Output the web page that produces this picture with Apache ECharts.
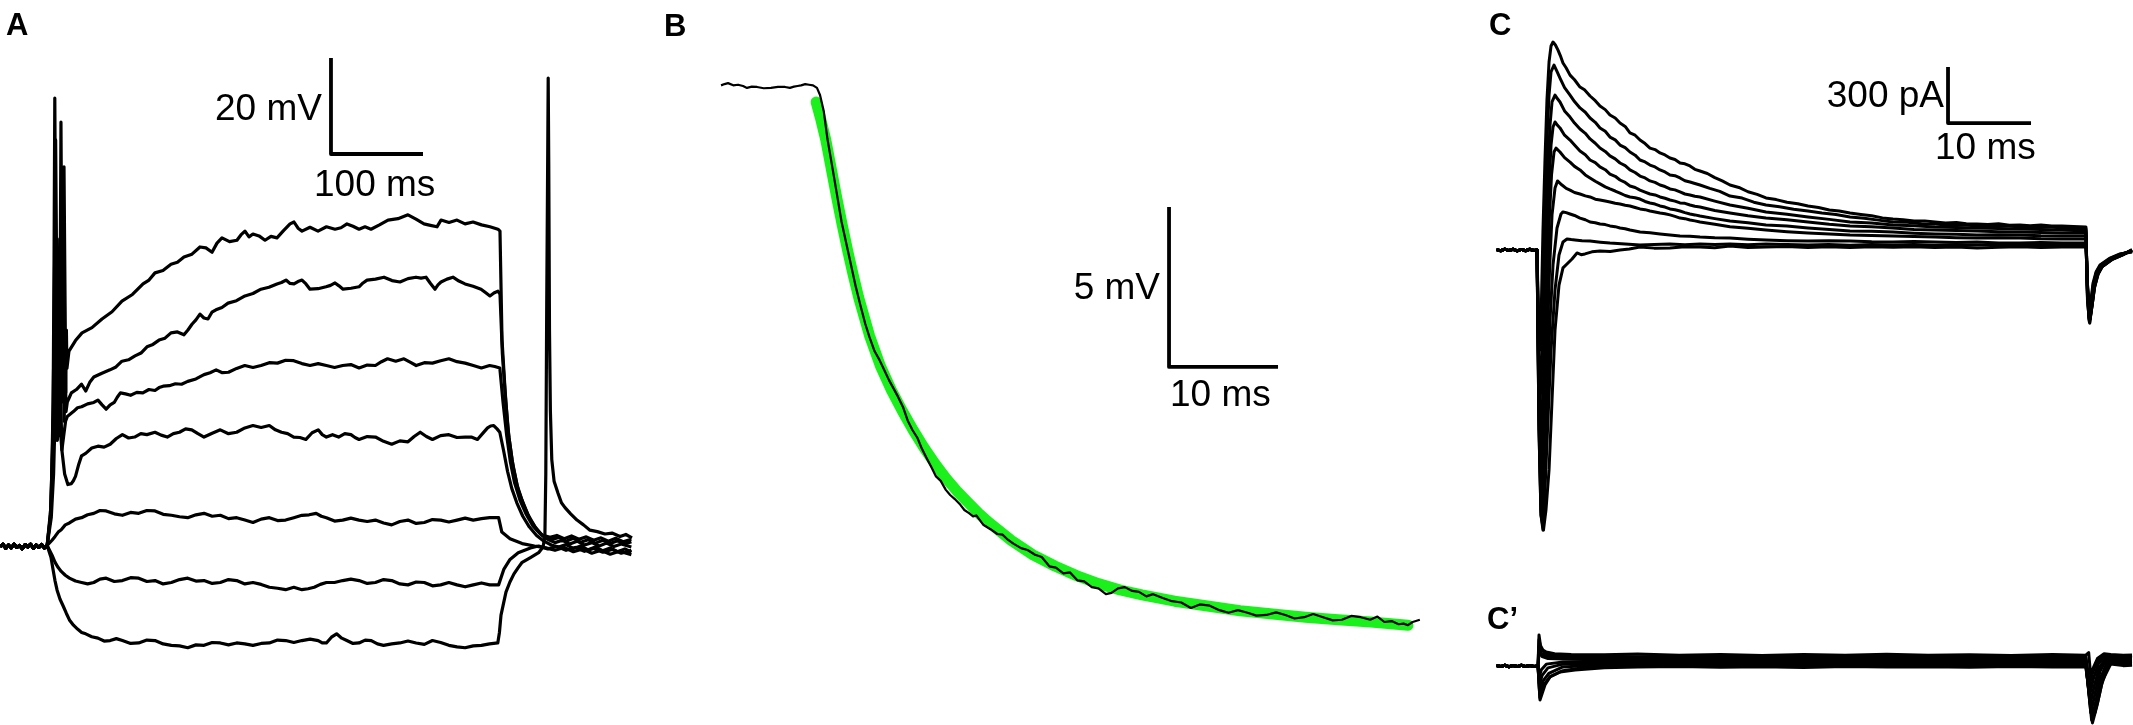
<!DOCTYPE html>
<html><head><meta charset="utf-8">
<script src="https://cdn.jsdelivr.net/npm/echarts/dist/echarts.min.js"></script>
<style>html,body{margin:0;padding:0;background:#fff}#c{width:2133px;height:725px}</style>
</head><body><div id="c"></div>
<script>
// ===== Panel A: membrane potential (ms, mV) =====
const aBase = [[-53,-70.2],[-50,-69.6],[-47,-70.5],[-44,-69.8],[-41,-70.4],[-38,-69.6],[-35,-70.3],[-32,-69.9],[-29,-70.6],[-26,-69.7],[-23,-70.2],[-20,-69.6],[-17,-70.5],[-14,-69.8],[-11,-70.3],[-8,-69.7],[-5,-70.4],[-2,-69.9]];
const a1 = [[0,-70],[1.5,-64],[3,-55],[4.5,-40],[5.5,-10],[6.3,23.3],[7,0],[8,-35],[9,-48],[10.5,-45],[12,-20],[13,18.3],[14,-15],[15,-40],[16.3,9],[17.5,-20],[18.2,-38],[18.9,-25],[19.5,-33],[21.7,-29.4],[28.8,-27.2],[35.9,-25.6],[46.7,-24.5],[57.6,-22.7],[68.5,-21.2],[79.3,-19.0],[90.7,-17.6],[102.2,-15.4],[108.7,-14.6],[115.2,-13.1],[123.9,-12.6],[132.6,-11.3],[139.6,-10.9],[146.7,-9.8],[155.4,-9.2],[164.1,-7.7],[170.6,-7.9],[177.2,-8.8],[182.6,-6.9],[188,-5.8],[196.2,-6.6],[204.3,-6.3],[208.6,-5.2],[213,-4.4],[217.4,-5.6],[221.7,-5.0],[228.3,-5.4],[234.8,-6.3],[241.3,-5.5],[247.8,-5.8],[254.9,-4.3],[262,-2.9],[266.3,-2.5],[270.7,-3.8],[275,-4.4],[283.7,-3.6],[292.4,-4.4],[301.6,-3.5],[310.9,-4.0],[317.4,-3.7],[323.9,-2.9],[330.4,-3.4],[337,-4.0],[343.5,-3.5],[350,-4.0],[359.2,-3.1],[368.5,-2.1],[379.3,-1.8],[390.2,-1.0],[398.9,-1.9],[407.6,-2.9],[414.6,-3.2],[421.7,-3.5],[426.1,-2.1],[434.8,-2.6],[443.5,-2.1],[452.2,-2.9],[460.9,-2.5],[470.1,-3.1],[479.3,-3.5],[488,-4.0],[490.2,-4.4],[492.4,-27],[495.7,-37.5],[498.9,-45.8],[503.3,-52.1],[508.7,-57.3],[514.1,-60.4],[520.7,-63.5],[528.3,-66],[535.9,-67.7],[544.6,-68.2],[552,-67.8],[560,-68.5],[568,-67.9],[576,-68.6],[584,-68.1],[592,-68.8],[600,-68.3],[608,-69.0],[616,-68.4],[624,-69.1],[633,-68.6]];
const a2 = [[0,-70],[2,-62],[4,-48],[5.5,-25],[7.2,14.6],[8.2,-10],[9.5,-40],[11,-47],[12.5,-35],[14.5,-0.6],[15.5,-25],[16.5,-44],[17.5,-30],[18.5,-42],[19.9,-40.0],[24.3,-38.1],[29.8,-37.4],[35.4,-36.3],[39.9,-37.7],[44.3,-35.9],[48.7,-34.8],[57.5,-34.0],[66.3,-33.3],[72.8,-32.7],[79.3,-31.5],[86.4,-31.2],[93.5,-30.4],[100,-29.8],[106.5,-28.5],[113,-28.0],[119.6,-27.1],[126.1,-26.7],[132.6,-25.6],[139.6,-25.4],[146.7,-26.0],[151,-25.0],[155.4,-23.8],[159.7,-22.9],[164.1,-21.7],[168.4,-22.5],[172.8,-22.7],[177.1,-21.3],[181.5,-20.8],[188,-20.3],[194.6,-19.4],[203.8,-18.9],[213,-17.9],[221.7,-17.4],[230.4,-16.5],[239.1,-16.1],[247.8,-15.4],[252.7,-15.1],[257.6,-14.6],[262,-15.3],[266.3,-15.4],[270.6,-14.9],[275,-14.6],[279.3,-15.4],[283.7,-16.5],[292.4,-16.4],[301.1,-16.0],[306,-15.7],[310.9,-15.2],[315.2,-15.8],[319.6,-16.5],[328.3,-16.3],[337,-16.0],[341.3,-15.2],[345.7,-14.6],[354.9,-14.4],[364.1,-14.0],[372.8,-14.7],[381.5,-15.0],[390.2,-14.3],[398.9,-14.0],[404.4,-14.2],[409.8,-14.0],[414.7,-15.3],[419.6,-16.5],[422.8,-15.6],[426.1,-15.0],[432.6,-14.4],[439.1,-14.0],[445.6,-14.8],[452.2,-15.4],[460.9,-15.9],[469.6,-16.5],[474.4,-17.2],[479.3,-17.9],[483.6,-17.3],[488,-16.9],[490.2,-17.5],[492.8,-30],[496.5,-40],[500,-47.5],[504.5,-53.5],[510,-58.3],[516,-61.5],[523,-64.5],[530.5,-66.7],[538,-68.1],[546,-68.7],[554,-68.2],[562,-69],[570,-68.4],[578,-69.2],[586,-68.7],[594,-69.4],[602,-68.8],[610,-69.5],[618,-68.9],[626,-69.6],[633,-69.1]];
const a3 = [[0,-70],[2,-63],[4,-50],[6,-35],[7.8,-15],[9,-6],[10.2,-22],[12,-45],[14,-50],[16,-47],[18,-44],[19.9,-43.0],[26.5,-42.0],[31,-41.2],[35.4,-41.0],[42,-40.4],[48.7,-40.1],[53.2,-39.6],[57.7,-40.6],[62.1,-41.5],[66.5,-40.6],[70.9,-40.1],[74.2,-39.0],[77.6,-38.1],[83.2,-38.3],[88.7,-38.6],[95.4,-38.0],[102,-38.1],[108.6,-37.4],[115.2,-37.6],[119.7,-37.0],[124.1,-36.7],[130.8,-36.6],[137.4,-36.2],[144.1,-36.3],[150.8,-35.7],[159.7,-35.2],[168.5,-34.3],[175.1,-33.9],[181.7,-33.3],[188.4,-33.9],[195.1,-33.8],[204,-33.0],[212.8,-32.4],[221.7,-32.8],[230.5,-32.4],[239.4,-31.8],[248.3,-31.9],[257.2,-31.3],[266,-31.4],[274.9,-32.0],[283.7,-32.4],[292.6,-32.0],[301.5,-32.4],[310.4,-32.8],[319.2,-32.4],[328.1,-32.2],[337,-32.9],[345.9,-32.3],[354.8,-32.4],[361.4,-31.6],[368,-31.0],[376.9,-31.5],[385.8,-31.0],[392.5,-31.7],[399.1,-32.4],[408,-31.8],[416.8,-31.9],[425.7,-31.4],[434.6,-31.0],[443.5,-31.6],[452.3,-31.9],[461.2,-32.4],[470,-32.9],[478.9,-32.4],[484.5,-32.6],[490,-32.9],[493.5,-40],[497.5,-47],[501.5,-52.5],[506,-56.8],[512,-60.5],[518.5,-63.3],[526,-65.8],[534,-67.5],[542,-68.6],[550,-69.3],[558,-68.8],[566,-69.6],[574,-69.0],[582,-69.8],[590,-69.3],[598,-70],[606,-69.4],[614,-70.1],[622,-69.6],[633,-70.2]];
const a4 = [[0,-70],[2.5,-64],[5,-55],[7,-40],[9,-22],[10.8,-15],[12.3,-35],[14,-50],[17,-55],[20.5,-57.2],[24.3,-57.0],[26.5,-56.4],[28.8,-55.5],[32,-53.2],[35.4,-51.2],[39.9,-50.7],[46.5,-49.6],[53.2,-49.2],[59.9,-49.4],[66.5,-48.8],[73.2,-47.6],[79.8,-46.8],[86.5,-47.5],[93.1,-47.3],[99.8,-46.6],[106.4,-46.8],[115.2,-46.3],[121.9,-46.9],[128.6,-47.3],[135.2,-46.6],[141.8,-46.3],[148.5,-45.6],[155.2,-45.8],[161.9,-46.6],[168.5,-47.3],[177.4,-46.5],[186.2,-45.8],[195.1,-46.6],[204,-46.3],[212.9,-45.4],[221.7,-44.9],[230.6,-45.3],[239.5,-44.9],[246.1,-45.8],[252.7,-46.3],[259.4,-46.6],[266,-47.3],[272.7,-47.4],[279.3,-47.8],[286,-46.4],[292.6,-45.8],[297,-46.8],[301.5,-47.3],[308.2,-46.8],[314.8,-47.3],[321.5,-46.6],[328.2,-46.8],[332.6,-47.4],[337,-47.8],[345.9,-47.2],[354.8,-47.3],[363.7,-48.2],[372.5,-48.8],[381.4,-48.1],[390.2,-48.3],[396.9,-47.2],[403.5,-46.3],[410.2,-47.2],[416.8,-47.8],[425.7,-47.0],[434.6,-46.8],[443.5,-47.4],[452.3,-47.3],[459,-47.3],[465.7,-47.8],[471.2,-46.6],[476.7,-45.4],[480,-45.0],[483.4,-44.9],[487,-45.6],[490,-46.3],[494,-50],[498.5,-54.5],[503,-58],[508.5,-61],[515,-63.8],[522,-66],[530,-67.8],[538,-69],[546,-69.8],[554,-70.2],[562,-69.7],[570,-70.5],[578,-70],[586,-70.8],[594,-70.2],[602,-71],[610,-70.4],[618,-71.2],[626,-70.6],[633,-71.3]];
const a5 = [[0,-70],[3.3,-68.8],[6.6,-68.0],[10,-67.1],[13.3,-66.6],[17.7,-65.6],[22.2,-65.2],[28.8,-64.4],[35.4,-64.1],[42,-63.5],[48.7,-63.2],[55.4,-62.6],[62.1,-62.7],[71,-63.3],[79.8,-63.6],[88.7,-63.0],[97.5,-63.2],[106.4,-62.6],[115.2,-62.7],[124.1,-63.4],[133,-63.6],[141.9,-63.9],[150.8,-64.1],[159.7,-63.5],[168.5,-63.2],[177.4,-63.8],[186.2,-63.6],[195.1,-64.3],[204,-64.1],[212.9,-64.6],[221.7,-65.1],[230.6,-64.4],[239.5,-64.1],[248.4,-64.7],[257.2,-64.6],[266.1,-64.1],[274.9,-63.6],[282.7,-63.5],[290.4,-63.2],[296,-63.8],[301.5,-64.1],[310.4,-64.8],[319.2,-64.6],[328.1,-64.2],[337,-64.6],[345.9,-64.9],[354.8,-64.6],[363.7,-65.2],[372.5,-65.6],[381.4,-64.9],[390.2,-64.6],[399.1,-65.3],[407.9,-65.1],[416.8,-64.5],[425.7,-64.6],[434.6,-65.0],[443.5,-64.6],[452.4,-64.2],[461.2,-64.6],[470.1,-64.3],[479,-64.1],[488.7,-64.1],[492.2,-67.1],[501.1,-68.5],[514.3,-69.5],[527.7,-70.0],[540,-70.4],[550,-70.9],[560,-70.3],[570,-71.2],[580,-70.6],[590,-71.5],[600,-70.9],[610,-71.7],[620,-71.1],[633,-71.8]];
const a6 = [[0,-70],[3.3,-71.9],[6.6,-73.4],[10,-74.5],[13.3,-75.3],[17.7,-76.1],[22.2,-76.7],[28.8,-77.3],[35.4,-77.6],[42,-77.9],[48.7,-77.6],[55.4,-76.9],[62.1,-76.7],[71,-77.4],[79.8,-77.2],[88.7,-76.6],[97.5,-76.7],[106.4,-77.4],[115.2,-77.2],[124.1,-77.9],[133,-77.6],[141.9,-77.0],[150.8,-76.7],[159.7,-77.3],[168.5,-77.2],[177.4,-77.8],[186.2,-77.6],[195.1,-77.0],[204,-77.2],[212.9,-77.9],[221.7,-77.6],[230.6,-78.0],[239.5,-78.6],[248.4,-78.8],[257.2,-79.1],[266.1,-78.6],[274.9,-79.1],[281.6,-78.9],[288.3,-78.6],[294.9,-78.0],[301.5,-77.6],[310.4,-77.6],[319.2,-77.2],[328.1,-76.9],[337,-77.2],[345.9,-77.8],[354.8,-77.6],[363.7,-77.0],[372.5,-77.2],[381.4,-77.9],[390.2,-78.1],[399.1,-77.5],[407.9,-77.6],[416.8,-78.3],[425.7,-78.1],[434.6,-77.6],[443.5,-78.1],[452.4,-78.5],[461.2,-78.1],[470.1,-77.7],[479,-78.1],[488.7,-78.1],[494.5,-74.8],[501.1,-72.8],[510,-71.4],[523.3,-70.4],[532.2,-70.0],[542,-70.6],[552,-70.1],[562,-70.9],[572,-70.3],[582,-71.1],[592,-70.5],[602,-71.3],[612,-70.7],[622,-71.5],[633,-70.9]];
const a7 = [[0,-70],[2.2,-72.4],[4.3,-74.8],[6.5,-77.2],[8.8,-79.2],[12,-81.1],[15.4,-82.5],[18.8,-84.0],[22.2,-85.4],[26.6,-86.5],[31,-87.3],[35.5,-88.0],[39.9,-88.3],[46.5,-88.9],[53.2,-89.2],[59.9,-89.8],[66.5,-89.7],[73.2,-89.3],[79.8,-89.7],[88.7,-90.3],[97.5,-90.2],[106.4,-89.6],[115.2,-89.7],[124.1,-90.4],[133,-90.7],[141.9,-90.8],[150.8,-91.2],[159.7,-90.6],[168.5,-90.7],[177.4,-90.1],[186.2,-90.2],[195.1,-90.6],[204,-90.2],[212.9,-90.4],[221.7,-90.7],[230.6,-90.3],[239.5,-90.2],[248.4,-89.6],[257.2,-89.7],[266.1,-90.1],[274.9,-89.7],[283.8,-89.4],[292.6,-89.7],[297,-90.2],[301.5,-90.2],[307,-89.0],[312.6,-88.3],[318.2,-89.2],[323.7,-89.7],[330.4,-90.3],[337,-90.2],[343.7,-89.6],[350.3,-89.7],[357,-90.4],[363.6,-90.7],[372.5,-90.4],[381.3,-90.2],[390.2,-89.8],[399.1,-90.2],[408,-90.5],[416.8,-89.7],[425.7,-90.1],[434.6,-90.7],[443.5,-91.0],[452.3,-91.2],[461.2,-90.8],[470,-90.7],[478.9,-90.4],[487.8,-90.2],[489.6,-88],[491.3,-84.4],[496.7,-79.6],[501,-77.5],[505.4,-75.8],[510,-74.5],[514.3,-73.4],[523.3,-72.4],[532.2,-71.4],[537,-70.2],[539,-68],[540,-55],[541,-20],[542.2,15],[542.6,27.5],[543.2,10],[544,-25],[545,-42],[546.5,-52],[549,-56.5],[553.3,-59.0],[557,-61],[560.9,-62],[567,-63.3],[573.9,-64.6],[581,-65.6],[588,-66.7],[596,-67.0],[604.3,-67.5],[612,-67.3],[620.7,-68],[627,-67.6],[633.7,-68.3]];

// ===== Panel B: voltage deflection (ms, mV relative) and exponential fit =====
const bTrace = [[-8.62,0.02],[-8.3,0.06],[-7.98,0.09],[-7.5,0.02],[-7.06,0.04],[-6.6,0.0],[-6.24,-0.06],[-5.8,-0.02],[-5.32,-0.03],[-4.7,-0.07],[-4.04,-0.06],[-3.4,-0.03],[-2.75,-0.03],[-2.3,-0.06],[-1.93,-0.02],[-1.6,0.0],[-1.28,0.02],[-0.9,0.06],[-0.55,0.04],[-0.18,0.02],[0.18,-0.06],[0.46,-0.28],[0.80,-0.78],[1.14,-1.65],[1.58,-2.52],[2.01,-3.38],[2.44,-4.25],[3.09,-5.26],[3.74,-6.27],[4.2,-6.9],[4.61,-7.43],[5.0,-7.85],[5.47,-8.29],[5.9,-8.55],[6.34,-8.87],[6.8,-9.2],[7.20,-9.45],[7.6,-9.7],[8.07,-10.03],[8.5,-10.45],[8.94,-10.75],[9.4,-11.0],[9.80,-11.33],[10.2,-11.6],[10.67,-11.91],[11.1,-12.2],[11.53,-12.34],[12.0,-12.62],[12.40,-12.78],[12.8,-12.9],[13.27,-13.06],[13.7,-13.25],[14.13,-13.35],[14.5,-13.45],[14.8,-13.42],[15.43,-13.71],[16.1,-13.85],[16.73,-14.0],[17.2,-14.02],[17.60,-14.15],[18.2,-14.3],[18.90,-14.44],[19.5,-14.5],[20.19,-14.65],[20.8,-14.72],[21.5,-15.01],[22.1,-15.05],[22.79,-15.23],[23.4,-15.2],[24.09,-15.45],[24.7,-15.48],[25.39,-15.66],[26.0,-15.7],[26.69,-15.88],[27.2,-15.84],[27.8,-15.7],[28.42,-15.66],[29.1,-15.78],[29.72,-15.81],[30.4,-15.95],[31.02,-15.88],[31.9,-16.0],[32.75,-16.10],[33.6,-16.14],[34.49,-16.31],[35.3,-16.2],[36.22,-16.24],[37.1,-16.38],[37.94,-16.46],[38.8,-16.38],[39.68,-16.46],[40.5,-16.55],[41.41,-16.53],[42.3,-16.45],[43.15,-16.53],[44.0,-16.64],[44.88,-16.60],[45.7,-16.5],[46.61,-16.60],[47.5,-16.7],[48.34,-16.68],[49.2,-16.56],[50.07,-16.60],[50.94,-16.68],[51.6,-16.58],[52.24,-16.75],[52.9,-16.72],[53.54,-16.82],[54.0,-16.8],[54.40,-16.85],[54.83,-16.75],[55.49,-16.68]];
const bFit = [[0.1,-0.5],[0.5,-1.0],[1.0,-1.7],[1.5,-2.6],[2.0,-3.5],[2.5,-4.35],[3.0,-5.15],[3.5,-5.9],[4.0,-6.6],[5.0,-7.8],[6.0,-8.75],[7.0,-9.5],[8.0,-10.15],[9.0,-10.75],[10,-11.3],[11,-11.8],[12,-12.25],[13,-12.65],[14,-13.0],[15,-13.35],[16,-13.65],[18,-14.2],[20,-14.65],[22,-15.0],[24,-15.3],[26,-15.55],[28,-15.75],[30,-15.9],[33,-16.1],[36,-16.25],[39,-16.4],[42,-16.5],[45,-16.6],[48,-16.68],[51,-16.75],[54.4,-16.85]];

// ===== Panel C: whole-cell currents (ms, pA) =====
const cBase = [[-5,2],[-4.5,-4],[-4,5],[-3.5,-3],[-3,4],[-2.5,-5],[-2,3],[-1.5,-4],[-1,4],[-0.5,-3]];
const c1 = [[-0.12,0],[0.06,-375],[0.24,-536],[0.42,-268],[0.60,107],[0.84,482],[1.08,804],[1.33,1007],[1.57,1093],[1.81,1114],[2.1,1098],[2.41,1071],[2.7,1040],[3.01,1002],[3.4,975],[3.86,937],[4.4,912],[5.06,873],[5.6,858],[6.27,825],[6.9,800],[7.47,771],[8.1,752],[8.67,723],[9.3,707],[9.88,680],[10.5,662],[11.08,627],[11.7,615],[12.29,589],[12.9,570],[13.49,546],[14.1,538],[14.7,520],[15.3,509],[15.9,493],[16.5,485],[17.11,466],[17.7,462],[18.31,450],[18.9,432],[19.52,423],[20.4,410],[21.3,388],[22.2,370],[23.13,348],[24.2,335],[25.3,312],[26.4,298],[27.47,279],[28.7,270],[30,256],[31.3,248],[32.53,236],[33.8,228],[35.1,214],[36.3,209],[37.59,198],[38.9,190],[40.2,183],[41.5,172],[42.77,166],[44,162],[45.3,155],[46.6,156],[47.83,150],[49.1,145],[50.4,147],[51.6,140],[52.89,139],[54.2,136],[55.5,140],[56.8,133],[58.07,134],[59.3,130],[60.6,134],[61.9,128],[63.13,129],[64.5,126],[66.02,123],[66.2,-268],[66.39,-364],[66.63,-268],[66.87,-177],[67.23,-118],[67.71,-80],[68.92,-43],[70.12,-21],[71.57,-11]];
const c2 = [[-0.12,0],[0.06,-482],[0.24,-804],[0.42,-696],[0.60,-268],[0.84,214],[1.08,589],[1.33,830],[1.57,954],[1.93,991],[2.3,955],[2.65,921],[3.2,870],[3.86,830],[4.4,795],[5.06,761],[5.7,738],[6.27,707],[6.9,684],[7.47,654],[8.1,636],[8.67,605],[9.3,590],[9.88,562],[10.5,548],[11.08,525],[11.7,508],[12.29,482],[12.9,472],[13.49,455],[14.1,445],[14.7,429],[15.3,418],[15.9,402],[16.5,398],[17.11,386],[17.7,371],[18.31,364],[18.9,356],[19.52,348],[20.7,330],[21.9,314],[23.13,289],[24.6,278],[26,256],[27.47,241],[29.1,232],[30.8,218],[32.53,209],[34.2,198],[35.9,190],[37.59,177],[39.3,170],[41,160],[42.77,150],[44.5,148],[46.2,140],[47.83,139],[49.5,133],[51.2,135],[52.89,129],[54.6,126],[56.3,130],[58.07,123],[59.8,120],[61.5,124],[63.13,118],[64.6,116],[66.02,112],[66.2,-250],[66.4,-375],[66.65,-275],[66.9,-185],[67.25,-122],[67.75,-82],[68.95,-45],[70.15,-22],[71.57,-8]];
const c3 = [[-0.12,0],[0.12,-643],[0.30,-1018],[0.48,-964],[0.72,-482],[0.96,54],[1.20,429],[1.45,670],[1.69,793],[2.05,830],[2.35,810],[2.65,793],[3.2,745],[3.86,712],[4.4,680],[5.06,648],[5.7,625],[6.27,595],[6.9,572],[7.47,546],[8.1,528],[8.67,504],[9.3,488],[9.88,466],[10.5,452],[11.08,429],[11.7,415],[12.29,396],[12.9,386],[13.49,370],[14.1,362],[14.7,348],[15.3,340],[15.9,327],[16.5,322],[17.11,311],[17.7,300],[18.31,295],[18.9,288],[19.52,284],[21.3,262],[23.13,241],[25.3,224],[27.47,204],[30,192],[32.53,177],[35.1,164],[37.59,150],[40.2,145],[42.77,134],[45.3,130],[47.83,123],[50.4,121],[52.89,118],[55.5,115],[58.07,112],[60.6,110],[63.13,107],[66.02,102],[66.2,-240],[66.42,-385],[66.67,-280],[66.92,-190],[67.27,-125],[67.78,-84],[68.98,-46],[70.2,-23],[71.57,-6]];
const c4 = [[-0.12,0],[0.12,-750],[0.36,-1178],[0.54,-1125],[0.78,-643],[1.02,-107],[1.27,295],[1.57,562],[1.81,659],[2.05,686],[2.35,668],[2.65,654],[3.2,615],[3.86,589],[4.4,562],[5.06,530],[5.7,510],[6.27,482],[6.9,468],[7.47,445],[8.1,430],[8.67,407],[9.3,395],[9.88,375],[10.5,362],[11.08,343],[11.7,335],[12.29,321],[12.9,310],[13.49,300],[14.1,295],[14.7,284],[15.3,277],[15.9,268],[16.5,262],[17.11,252],[17.7,250],[18.31,241],[18.9,234],[19.52,230],[21.3,212],[23.13,198],[25.3,183],[27.47,171],[30,162],[32.53,150],[35.1,138],[37.59,129],[40.2,124],[42.77,118],[45.3,110],[47.83,107],[50.4,105],[52.89,102],[55.5,98],[58.07,96],[60.6,94],[63.13,91],[66.02,91],[66.2,-230],[66.44,-380],[66.7,-285],[66.95,-195],[67.3,-128],[67.8,-86],[69,-47],[70.25,-24],[71.57,-4]];
const c5 = [[-0.12,0],[0.12,-804],[0.36,-1286],[0.60,-1312],[0.84,-804],[1.08,-268],[1.33,134],[1.63,402],[1.93,525],[2.17,546],[2.4,538],[2.65,525],[3.2,495],[3.86,471],[4.4,448],[5.06,429],[5.7,402],[6.27,386],[6.9,368],[7.47,354],[8.1,338],[8.67,327],[9.3,316],[9.88,305],[10.5,292],[11.08,284],[11.7,280],[12.29,273],[12.9,260],[13.49,252],[14.1,246],[14.7,236],[15.3,230],[15.9,220],[16.5,216],[17.11,209],[17.7,200],[18.31,193],[18.9,188],[19.52,182],[21.3,168],[23.13,155],[25.3,146],[27.47,134],[30,128],[32.53,118],[35.1,110],[37.59,102],[40.2,100],[42.77,96],[45.3,90],[47.83,86],[50.4,84],[52.89,80],[55.5,82],[58.07,80],[60.6,76],[63.13,75],[66.02,75],[66.2,-220],[66.46,-388],[66.72,-290],[66.97,-198],[67.33,-130],[67.83,-88],[69.05,-48],[70.3,-25],[71.57,-3]];
const c6 = [[-0.12,0],[0.12,-857],[0.36,-1339],[0.60,-1420],[0.84,-1018],[1.08,-536],[1.39,-107],[1.69,188],[2.05,332],[2.35,370],[2.6,360],[2.89,348],[3.4,330],[3.86,321],[4.4,308],[5.06,300],[5.7,290],[6.27,284],[6.9,272],[7.47,268],[8.1,262],[8.67,257],[9.3,250],[9.88,246],[10.5,240],[11.08,236],[11.7,228],[12.29,220],[12.9,216],[13.49,209],[14.1,204],[14.7,198],[15.3,194],[15.9,188],[16.5,180],[17.11,171],[17.7,168],[18.31,161],[18.9,156],[19.52,150],[21.3,138],[23.13,125],[25.3,116],[27.47,107],[30,98],[32.53,91],[35.1,86],[37.59,80],[40.2,78],[42.77,75],[45.3,72],[47.83,70],[50.4,66],[52.89,64],[55.5,66],[58.07,64],[60.6,60],[63.13,59],[66.02,59],[66.2,-210],[66.48,-392],[66.74,-295],[67,-200],[67.36,-132],[67.86,-90],[69.1,-49],[70.35,-26],[71.57,-2]];
const c7 = [[-0.12,0],[0.12,-911],[0.36,-1393],[0.60,-1473],[0.84,-1178],[1.08,-804],[1.45,-375],[1.81,-80],[2.29,118],[2.77,193],[3.01,204],[3.4,200],[3.86,193],[4.4,185],[5.06,171],[5.7,162],[6.27,150],[6.9,146],[7.47,139],[8.1,136],[8.67,129],[9.3,125],[9.88,118],[10.5,114],[11.08,107],[11.7,102],[12.29,96],[13.5,92],[14.7,86],[15.9,80],[17.11,75],[18.3,74],[19.52,70],[21.3,66],[23.13,64],[25.3,58],[27.47,54],[30,50],[32.53,48],[35.1,50],[37.59,48],[40.2,44],[42.77,43],[45.3,46],[47.83,43],[50.4,40],[52.89,43],[55.5,38],[58.07,37],[60.6,40],[63.13,37],[66.02,37],[66.2,-200],[66.5,-372],[66.76,-300],[67.02,-203],[67.4,-134],[67.9,-91],[69.15,-50],[70.4,-26],[71.57,-1]];
const c8 = [[-0.12,0],[0.12,-964],[0.36,-1420],[0.60,-1500],[0.84,-1286],[1.20,-911],[1.57,-536],[2.05,-214],[2.53,-27],[3.01,43],[3.49,59],[4,56],[4.46,54],[5.3,50],[6.27,48],[7.5,42],[8.67,37],[10.5,32],[12.29,27],[14,30],[15.9,32],[17.7,28],[19.52,32],[21.3,29],[23.13,32],[25.3,28],[27.47,32],[30,30],[32.53,27],[35,30],[37.6,26],[40.2,29],[42.8,27],[45.3,30],[47.8,26],[50.4,28],[52.9,27],[55.5,30],[58.1,26],[60.6,28],[63.1,27],[66.02,27],[66.2,-190],[66.52,-368],[66.78,-290],[67.05,-200],[67.45,-132],[67.95,-90],[69.2,-50],[70.45,-26],[71.57,0]];
const c9 = [[-0.12,0],[0.12,-964],[0.36,-1420],[0.66,-1500],[0.96,-1393],[1.33,-1178],[1.69,-804],[2.05,-429],[2.53,-188],[3.01,-96],[3.49,-75],[4.10,-48],[4.70,-16],[5.2,-25],[5.66,-21],[6.5,-10],[7.47,-5],[8.7,-8],[9.88,0],[11,5],[12.29,16],[14,10],[15.9,11],[17.7,18],[19.52,16],[21.3,12],[23.13,21],[25.3,14],[27.47,16],[30,19],[32.5,13],[35,17],[37.6,14],[40.2,18],[42.8,15],[45.3,17],[47.8,13],[50.4,16],[52.9,11],[55.5,15],[58.1,17],[60.6,13],[63.1,16],[66.02,16],[66.2,-180],[66.5,-360],[66.8,-280],[67.08,-195],[67.5,-128],[68,-88],[69.25,-49],[70.5,-25],[71.57,2]];

// ===== Panel C': currents after block (ms, pA) =====
const cpBase = [[-5,3],[-4.5,-3],[-4,4],[-3.5,-4],[-3,3],[-2.5,-3],[-2,4],[-1.5,-3],[-1,3],[-0.5,-2]];
const cp1 = [[0,0],[0.12,166],[0.3,110],[0.6,85],[1.0,75],[2,66],[4,62],[8,60],[12,64],[17,57],[22,62],[27,56],[32,61],[37,58],[42,63],[47,57],[52,60],[57,56],[62,61],[66,58],[66.2,62],[66.35,72],[66.6,-60],[66.9,-10],[67.4,40],[68.2,66],[69,62],[70.5,57],[71.57,59]];
const cp2 = [[0,0],[0.12,140],[0.35,95],[0.8,70],[1.5,60],[3,55],[8,52],[12,49],[17,54],[22,50],[27,53],[32,48],[37,52],[42,49],[47,54],[52,50],[57,53],[62,49],[66,51],[66.2,52],[66.45,-100],[66.8,-40],[67.3,20],[68.2,60],[69,55],[70.5,50],[71.57,52]];
const cp3 = [[0,0],[0.15,110],[0.4,70],[1,52],[3,46],[8,44],[12,41],[17,45],[22,42],[27,46],[32,41],[37,44],[42,40],[47,45],[52,42],[57,44],[62,41],[66,43],[66.2,44],[66.5,-150],[66.9,-70],[67.5,10],[68.4,58],[69.3,48],[71.57,45]];
const cp4 = [[0,0],[0.15,80],[0.5,50],[1.2,40],[3,37],[8,35],[12,38],[17,33],[22,36],[27,32],[32,37],[37,34],[42,37],[47,32],[52,36],[57,33],[62,37],[66,35],[66.2,36],[66.55,-200],[67,-110],[67.6,-10],[68.6,55],[69.5,40],[71.57,38]];
const cp5 = [[0,0],[0.15,-60],[0.4,-20],[1,10],[3,22],[8,27],[12,24],[17,29],[22,25],[27,28],[32,24],[37,29],[42,26],[47,28],[52,24],[57,29],[62,25],[66,27],[66.2,28],[66.6,-250],[67.1,-150],[67.7,-30],[68.7,50],[69.8,30],[71.57,30]];
const cp6 = [[0,0],[0.18,-100],[0.5,-50],[1.2,-10],[3,10],[8,18],[12,21],[17,16],[22,20],[27,17],[32,21],[37,17],[42,20],[47,16],[52,21],[57,18],[62,20],[66,19],[66.2,20],[66.7,-290],[67.2,-190],[67.8,-60],[68.8,40],[70,22],[71.57,24]];
const cp7 = [[0,0],[0.2,-140],[0.6,-80],[1.3,-40],[3,-5],[8,8],[12,13],[17,9],[22,12],[27,8],[32,13],[37,10],[42,12],[47,9],[52,13],[57,10],[62,12],[66,11],[66.2,12],[66.8,-305],[67.3,-220],[67.9,-100],[68.9,30],[70.2,15],[71.57,16]];
const cp8 = [[0,0],[0.22,-170],[0.7,-100],[1.5,-55],[3,-25],[6,-5],[10,2],[14,5],[19,1],[24,4],[29,0],[34,5],[39,2],[44,4],[49,1],[54,5],[59,2],[64,4],[66,3],[66.2,4],[66.75,-280],[67.1,-250],[67.5,-150],[68.3,-20],[69.2,20],[70.5,8],[71.57,10]];
const cp9 = [[0,0],[0.24,-182],[0.84,-102],[1.45,-59],[2.65,-32],[4.46,-21],[8,-10],[12,-6],[17,-3],[22,-7],[27,-4],[32,-8],[37,-3],[42,-6],[47,-4],[52,-7],[57,-3],[62,-6],[66,-5],[66.2,-4],[66.7,-230],[67,-260],[67.4,-200],[68,-80],[69,10],[70.5,2],[71.57,4]];

// ===== Scale bars: [grid, t0, v0, dt, dv, yLabel, xLabel] =====
const scaleBars = [
  [0, 306.5, 11.67, 100, 20, '20 mV', '100 ms'],
  [1, 32.48, -8.78, 10, 5, '5 mV', '10 ms'],
  [2, 49.4, 680, 10, 300, '300 pA', '10 ms']
];
const panelLetters = ['A', 'B', 'C', 'C\u2019'];

// ===== Layout (all grids kept inside the 2133x725 canvas) =====
const grids = [
  {left:0.24, top:18, width:637.56, height:696},
  {left:706, top:22, width:719.4, height:672},
  {left:1496.5, top:7.33, width:634.95, height:541.33},
  {left:1496.5, top:610, width:634.95, height:113.87}
];
const xr = [[-53,640],[-10,56],[-5,71.5],[-5,71.5]];
const yr = [[-105,40],[-19,2],[-1600,1300],[-310,300]];

const FONT = '"Liberation Sans", Arial, Helvetica, sans-serif';
const chart = echarts.init(document.getElementById('c'), null, {renderer:'canvas', width:2133, height:725});

function tr(data, gi, color, width, z, cap) {
  return {type:'line', xAxisIndex:gi, yAxisIndex:gi, data:data, symbol:'none', showSymbol:false,
    silent:true, animation:false, z:z||2, clip:false,
    lineStyle:{color:color||'#000', width:width||3, join:'round', cap:cap||'butt'}};
}
const series = [];
[a1,a2,a3,a4,a5,a6,a7].forEach(d => series.push(tr(aBase.concat(d), 0, '#000', 3.2)));
series.push(tr(bFit, 1, '#1cf01c', 11, 1, 'round'));
series.push(tr(bTrace, 1, '#000', 2.2, 3));
[c1,c2,c3,c4,c5,c6,c7,c8,c9].forEach(d => series.push(tr(cBase.concat(d), 2, '#000', 3.0)));
[cp1,cp2,cp3,cp4,cp5,cp6,cp7,cp8,cp9].forEach(d => series.push(tr(cpBase.concat(d), 3, '#000', 3.0)));
scaleBars.forEach(s => {
  series.push(tr([[s[1], s[2]+s[4]],[s[1], s[2]],[s[1]+s[3], s[2]]], s[0], '#000', 3.8, 5));
});

chart.setOption({
  backgroundColor:'#fff',
  animation:false,
  grid: grids.map(g => Object.assign({containLabel:false}, g)),
  xAxis: xr.map((r,i) => ({type:'value', gridIndex:i, min:r[0], max:r[1], show:false})),
  yAxis: yr.map((r,i) => ({type:'value', gridIndex:i, min:r[0], max:r[1], show:false})),
  series: series
});

// labels positioned from the scale bars through the axes
const labelOffsets = [
  {yl:[-9, 4], xl:[-17, 32]},
  {yl:[-9, 2], xl:[1, 29]},
  {yl:[-4, 2], xl:[-13, 26]}
];
const graphics = [];
scaleBars.forEach((s, i) => {
  const top = chart.convertToPixel({gridIndex:s[0]}, [s[1], s[2]+s[4]]);
  const corner = chart.convertToPixel({gridIndex:s[0]}, [s[1], s[2]]);
  const o = labelOffsets[i];
  graphics.push({type:'text', silent:true, style:{text:s[5], x:corner[0]+o.yl[0], y:(top[1]+corner[1])/2+o.yl[1],
    textAlign:'right', textVerticalAlign:'middle', font:'37px '+FONT, fill:'#000'}});
  graphics.push({type:'text', silent:true, style:{text:s[6], x:corner[0]+o.xl[0], y:corner[1]+o.xl[1],
    textAlign:'left', textVerticalAlign:'middle', font:'37px '+FONT, fill:'#000'}});
});
const letterPos = [[6,26],[664,27],[1489,26],[1487,620]];
panelLetters.forEach((t,i) => {
  graphics.push({type:'text', silent:true, style:{text:t, x:letterPos[i][0], y:letterPos[i][1],
    textAlign:'left', textVerticalAlign:'middle', font:'bold 31px '+FONT, fill:'#000'}});
});
chart.setOption({graphic: graphics});
</script>
</body></html>
